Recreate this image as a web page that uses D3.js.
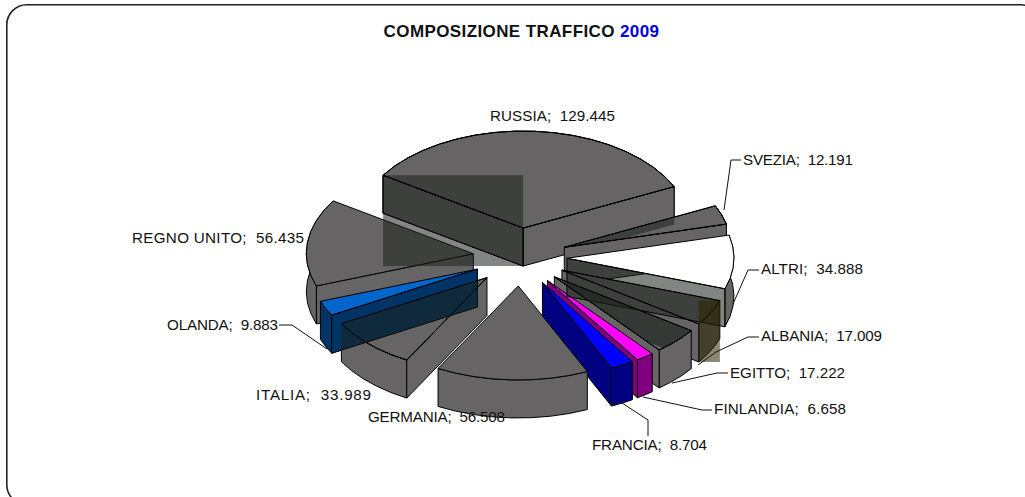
<!DOCTYPE html>
<html>
<head>
<meta charset="utf-8">
<script src="https://cdn.jsdelivr.net/npm/d3@7"></script>
<style>
  html, body { margin: 0; padding: 0; background: #fff; overflow: hidden; }
  text { font-family: "Liberation Sans", Arial, sans-serif; fill: #111; white-space: pre; }
</style>
</head>
<body>
<div id="graph"></div>
<script>
// Dati
const categories = ["RUSSIA", "SVEZIA", "ALTRI", "ALBANIA", "EGITTO", "FINLANDIA", "FRANCIA", "GERMANIA", "ITALIA", "OLANDA", "REGNO UNITO"];
const values = [129.445, 12.191, 34.888, 17.009, 17.222, 6.658, 8.704, 56.508, 33.989, 9.883, 56.435];
const valueLabels = ["129.445", "12.191", "34.888", "17.009", "17.222", "6.658", "8.704", "56.508", "33.989", "9.883", "56.435"];
const titleText = "COMPOSIZIONE TRAFFICO ";
const titleYear = "2009";

// Layout etichette [x, base, larghezza] e linee guida
const labelPos = {
  "RUSSIA": [490, 120.5, 125], "SVEZIA": [743, 165, 110], "ALTRI": [761, 274, 102], "ALBANIA": [761, 341, 121],
  "EGITTO": [730, 378, 115], "FINLANDIA": [714, 414, 132], "FRANCIA": [592, 450, 115], "GERMANIA": [368, 422, 137],
  "ITALIA": [256, 400, 115], "OLANDA": [167, 330, 111], "REGNO UNITO": [132, 243, 172]
};
const leaders = {
  "SVEZIA": [[741, 160], [731, 160], [724, 210]],
  "ALTRI": [[759, 270], [748, 270], [733, 304]],
  "ALBANIA": [[759, 337], [748, 337], [716, 352], [698, 365]],
  "EGITTO": [[728, 373], [717, 373], [672, 383]],
  "FINLANDIA": [[712, 410], [702, 410], [643, 397]],
  "FRANCIA": [[648, 436], [648, 420], [622, 403]],
  "OLANDA": [[279, 325], [292, 325], [327, 349]]
};

const topColor = { "ALTRI": "#ffffff", "OLANDA": "#0066cc", "FRANCIA": "#0000ff", "FINLANDIA": "#ff00ff" };
const sideColor = { "OLANDA": "#003366", "FRANCIA": "#000080", "FINLANDIA": "#800080" };
const gray = "#666464";
const shade = "#1b221b";

const width = 1025, height = 497;
const center = { x: 520, y: 257 };
const radiusX = 167, radiusY = 97, depth = 38;
const explodeX = 47, explodeY = 29;

const svg = d3.select("#graph").append("svg")
  .attr("width", width)
  .attr("height", height)
  .style("display", "block");

// Cornice
svg.append("rect")
  .attr("x", 6.8).attr("y", 4.8)
  .attr("width", 1034).attr("height", 500)
  .attr("rx", 20).attr("ry", 20)
  .attr("fill", "#fff")
  .attr("stroke", "#222")
  .attr("stroke-width", 1.6);

// Titolo
const title = svg.append("text")
  .attr("x", 521.5).attr("y", 36.5)
  .attr("text-anchor", "middle")
  .style("font-size", "17px")
  .style("letter-spacing", "0.4px")
  .style("font-weight", "700");
title.append("tspan").text(titleText);
title.append("tspan").style("fill", "#0000e0").text(titleYear);

// Torta
const pie = d3.pie().sort(null)
  .startAngle(-57 * Math.PI / 180)
  .endAngle(303 * Math.PI / 180);

const slices = pie(values).map((d, i) => {
  const mid = (d.startAngle + d.endAngle) / 2;
  return {
    name: categories[i],
    start: d.startAngle,
    end: d.endAngle,
    mid,
    apex: [center.x + explodeX * Math.sin(mid), center.y - explodeY * Math.cos(mid)]
  };
});
const byName = Object.fromEntries(slices.map(s => [s.name, s]));

const sx = d3.scaleLinear().domain([-1, 1]).range([-radiusX, radiusX]);
const sy = d3.scaleLinear().domain([-1, 0, 1]).range([radiusY - 3, 0, -radiusY]);
const rimPoint = (s, a) => [s.apex[0] + sx(Math.sin(a)), s.apex[1] + sy(Math.cos(a))];
const down = p => [p[0], p[1] + depth];
const path = pts => d3.line()(pts) + "Z";

function rimPoints(s) {
  const n = Math.max(2, Math.ceil((s.end - s.start) / 0.12));
  return d3.range(n + 1).map(k => rimPoint(s, s.start + (s.end - s.start) * k / n));
}
const topPoly = s => [s.apex, ...rimPoints(s)];
const wallPoly = (s, a) => { const r = rimPoint(s, a); return [s.apex, r, down(r), down(s.apex)]; };
const rimPoly = s => { const r = rimPoints(s); return [...r, ...r.slice().reverse().map(down)]; };
const startWall = s => wallPoly(s, s.start);
const endWall = s => wallPoly(s, s.end);

function shape(pts, fill, stroke = "#000", opacity = 1) {
  return svg.append("path")
    .attr("d", path(pts))
    .attr("fill", fill)
    .attr("fill-opacity", opacity)
    .attr("stroke", stroke)
    .attr("stroke-width", 1)
    .attr("stroke-linejoin", "round");
}
function shapeOutline(pts) { shape(pts, "none"); }

function shadeBox(pts, color = shade, opacity = 0.55) {
  const xs = pts.map(p => p[0]), ys = pts.map(p => p[1]);
  svg.append("rect")
    .attr("x", d3.min(xs)).attr("y", d3.min(ys))
    .attr("width", d3.max(xs) - d3.min(xs)).attr("height", d3.max(ys) - d3.min(ys))
    .attr("fill", color).attr("fill-opacity", opacity);
}
let clipCount = 0;
function shadeClipped(pts, clipPts, opacity = 0.55) {
  const id = "clip" + (clipCount++);
  svg.append("clipPath").attr("id", id).append("path").attr("d", path(clipPts));
  svg.append("path")
    .attr("d", path(pts))
    .attr("clip-path", `url(#${id})`)
    .attr("fill", shade)
    .attr("fill-opacity", opacity);
}

// Disegno dal fondo verso il davanti
const sideOf = s => sideColor[s.name] || gray;
slices.slice().sort((a, b) => Math.cos(b.mid) - Math.cos(a.mid)).forEach(s => {
  shape(rimPoly(s), sideOf(s));
  if (Math.sin(s.start) < 0) shape(startWall(s), sideOf(s));
  if (Math.sin(s.end) > 0 && s.name !== "ALTRI") shape(endWall(s), sideOf(s));
  shape(topPoly(s), topColor[s.name] || gray);
});

// Zone scure semitrasparenti
const russia = byName["RUSSIA"], svezia = byName["SVEZIA"], altri = byName["ALTRI"];
const albania = byName["ALBANIA"], egitto = byName["EGITTO"], italia = byName["ITALIA"], olanda = byName["OLANDA"];

shadeBox(startWall(russia));
shapeOutline(startWall(russia));
shapeOutline(topPoly(russia));
shadeClipped(endWall(russia), topPoly(svezia));
shapeOutline(topPoly(svezia));
shape(endWall(altri), shade, "#000", 0.55);
shadeClipped(endWall(albania), topPoly(egitto), 0.65);
shapeOutline(topPoly(albania));
shapeOutline(topPoly(egitto));
shadeBox(rimPoly(albania), "#2a2200", 0.55);

// Parete dell'Olanda sopra l'Italia
shape(startWall(olanda), sideOf(olanda));
shadeClipped(startWall(olanda), endWall(italia));
shapeOutline(topPoly(italia));

// Linee guida
Object.values(leaders).forEach(pts => {
  svg.append("path")
    .attr("d", d3.line()(pts))
    .attr("fill", "none")
    .attr("stroke", "#111")
    .attr("stroke-width", 1);
});

// Etichette
categories.forEach((c, i) => {
  svg.append("text")
    .attr("x", labelPos[c][0])
    .attr("y", labelPos[c][1])
    .attr("textLength", labelPos[c][2])
    .attr("lengthAdjust", "spacing")
    .style("font-size", "15.2px")
    .text(`${c};  ${valueLabels[i]}`);
});
</script>
</body>
</html>
